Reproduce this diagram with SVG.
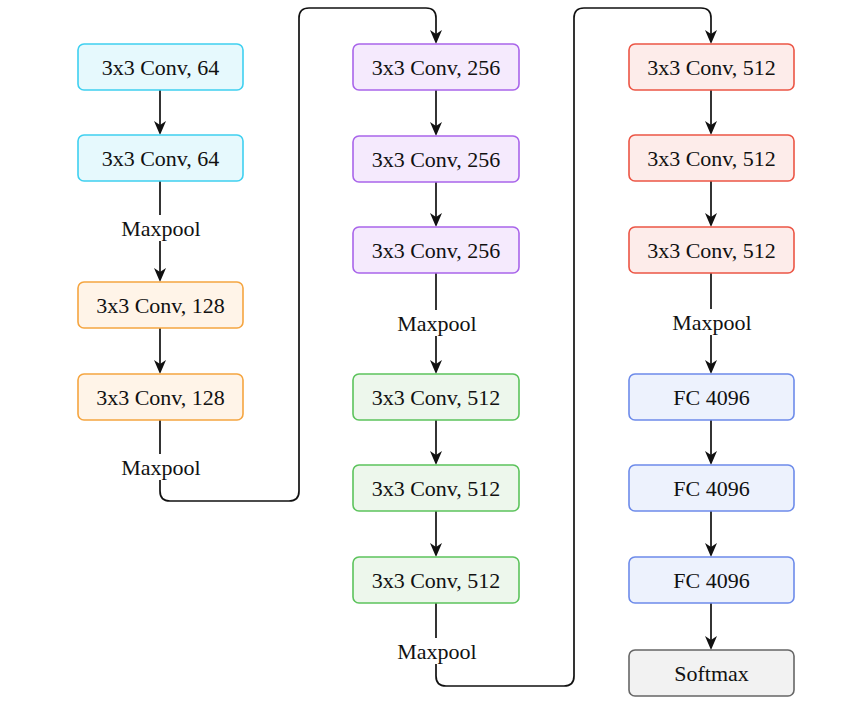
<svg xmlns="http://www.w3.org/2000/svg" width="851" height="713" viewBox="0 0 851 713">
<style>
.n rect{stroke-width:1.6}
.t{font-family:"Liberation Serif","Times New Roman",serif;font-size:22px;fill:#111;text-anchor:middle}
.cy rect{fill:#e6f9fd;stroke:#3fd0f0}
.or rect{fill:#fff4e8;stroke:#f5a540}
.pu rect{fill:#f5eafd;stroke:#a965ea}
.gr rect{fill:#edf7ec;stroke:#5cc35c}
.re rect{fill:#fdecea;stroke:#ec5545}
.bl rect{fill:#edf2fd;stroke:#6d8bea}
.so rect{fill:#f2f2f2;stroke:#666}
.c{fill:none;stroke:#111;stroke-width:1.7}
.lb{fill:#fff}
</style>
<defs>
<marker id="ah" viewBox="0 0 14 12" refX="11" refY="6" markerWidth="14" markerHeight="12" markerUnits="userSpaceOnUse" orient="auto">
<path d="M0,0 L14,6 L0,12 L4,6 z" fill="#111"/>
</marker>
</defs>
<rect width="851" height="713" fill="#fff"/>
<g id="connectors">
<path class="c" d="M160,90 V132" marker-end="url(#ah)"/>
<path class="c" d="M160,181 V279" marker-end="url(#ah)"/>
<path class="c" d="M160,328 V371" marker-end="url(#ah)"/>
<path class="c" d="M160,420 V491 Q160,501 170,501 H289 Q299,501 299,491 V18 Q299,8 309,8 H426 Q436,8 436,18 V41" marker-end="url(#ah)"/>
<path class="c" d="M436,90 V133" marker-end="url(#ah)"/>
<path class="c" d="M436,182 V224" marker-end="url(#ah)"/>
<path class="c" d="M436,273 V371" marker-end="url(#ah)"/>
<path class="c" d="M436,420 V462" marker-end="url(#ah)"/>
<path class="c" d="M436,511 V554" marker-end="url(#ah)"/>
<path class="c" d="M436,603 V676 Q436,686 446,686 H564 Q574,686 574,676 V18 Q574,8 584,8 H701 Q711,8 711,18 V41" marker-end="url(#ah)"/>
<path class="c" d="M711,90 V132" marker-end="url(#ah)"/>
<path class="c" d="M711,181 V224" marker-end="url(#ah)"/>
<path class="c" d="M711,273 V371" marker-end="url(#ah)"/>
<path class="c" d="M711,420 V462" marker-end="url(#ah)"/>
<path class="c" d="M711,511 V554" marker-end="url(#ah)"/>
<path class="c" d="M711,603 V647" marker-end="url(#ah)"/>
<rect class="lb" x="118" y="215" width="86" height="26"/>
<text class="t" x="161" y="235.5">Maxpool</text>
<rect class="lb" x="118" y="454" width="86" height="26"/>
<text class="t" x="161" y="474.5">Maxpool</text>
<rect class="lb" x="394" y="310" width="86" height="26"/>
<text class="t" x="437" y="330.5">Maxpool</text>
<rect class="lb" x="394" y="638" width="86" height="26"/>
<text class="t" x="437" y="658.5">Maxpool</text>
<rect class="lb" x="669" y="309" width="86" height="26"/>
<text class="t" x="712" y="329.5">Maxpool</text>
</g>
<g id="c1n1" class="n cy"><rect x="78" y="44" width="165" height="46" rx="6"/><text class="t" x="160.5" y="75">3x3 Conv, 64</text></g>
<g id="c1n2" class="n cy"><rect x="78" y="135" width="165" height="46" rx="6"/><text class="t" x="160.5" y="166">3x3 Conv, 64</text></g>
<g id="c1n3" class="n or"><rect x="78" y="282" width="165" height="46" rx="6"/><text class="t" x="160.5" y="313">3x3 Conv, 128</text></g>
<g id="c1n4" class="n or"><rect x="78" y="374" width="165" height="46" rx="6"/><text class="t" x="160.5" y="405">3x3 Conv, 128</text></g>
<g id="c2n1" class="n pu"><rect x="353" y="44" width="166" height="46" rx="6"/><text class="t" x="436" y="75">3x3 Conv, 256</text></g>
<g id="c2n2" class="n pu"><rect x="353" y="136" width="166" height="46" rx="6"/><text class="t" x="436" y="167">3x3 Conv, 256</text></g>
<g id="c2n3" class="n pu"><rect x="353" y="227" width="166" height="46" rx="6"/><text class="t" x="436" y="258">3x3 Conv, 256</text></g>
<g id="c2n4" class="n gr"><rect x="353" y="374" width="166" height="46" rx="6"/><text class="t" x="436" y="405">3x3 Conv, 512</text></g>
<g id="c2n5" class="n gr"><rect x="353" y="465" width="166" height="46" rx="6"/><text class="t" x="436" y="496">3x3 Conv, 512</text></g>
<g id="c2n6" class="n gr"><rect x="353" y="557" width="166" height="46" rx="6"/><text class="t" x="436" y="588">3x3 Conv, 512</text></g>
<g id="c3n1" class="n re"><rect x="629" y="44" width="165" height="46" rx="6"/><text class="t" x="711.5" y="75">3x3 Conv, 512</text></g>
<g id="c3n2" class="n re"><rect x="629" y="135" width="165" height="46" rx="6"/><text class="t" x="711.5" y="166">3x3 Conv, 512</text></g>
<g id="c3n3" class="n re"><rect x="629" y="227" width="165" height="46" rx="6"/><text class="t" x="711.5" y="258">3x3 Conv, 512</text></g>
<g id="c3n4" class="n bl"><rect x="629" y="374" width="165" height="46" rx="6"/><text class="t" x="711.5" y="405">FC 4096</text></g>
<g id="c3n5" class="n bl"><rect x="629" y="465" width="165" height="46" rx="6"/><text class="t" x="711.5" y="496">FC 4096</text></g>
<g id="c3n6" class="n bl"><rect x="629" y="557" width="165" height="46" rx="6"/><text class="t" x="711.5" y="588">FC 4096</text></g>
<g id="c3n7" class="n so"><rect x="629" y="650" width="165" height="46" rx="6"/><text class="t" x="711.5" y="681">Softmax</text></g>
</svg>
